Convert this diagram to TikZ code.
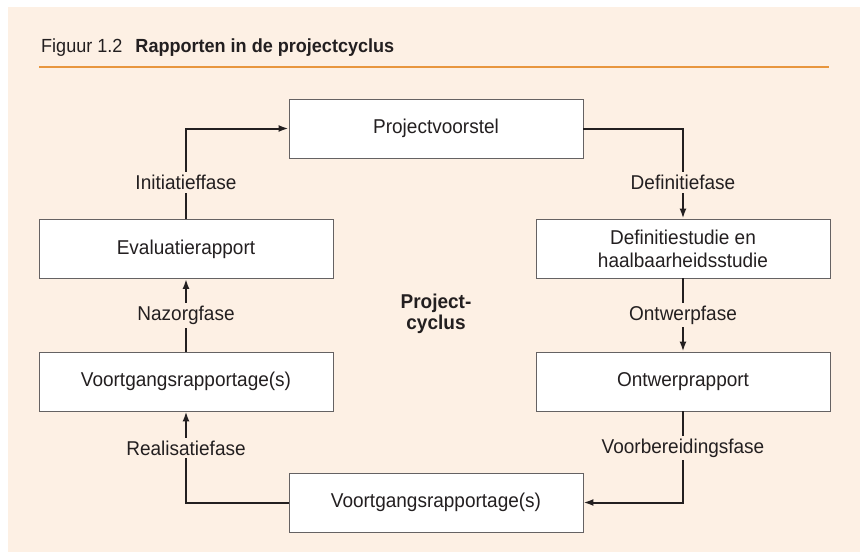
\documentclass[tikz,border=0pt]{standalone}
\usepackage{fontspec}
\setmainfont{Liberation Sans}[FakeStretch=0.95]
\usetikzlibrary{arrows.meta}
\definecolor{peach}{RGB}{253,240,228}
\definecolor{rulecol}{RGB}{232,150,62}
\definecolor{ink}{RGB}{35,31,32}

\begin{document}
\begin{tikzpicture}[x=1pt,y=-1pt,
    box/.style={draw=ink!70,fill=white,line width=0.9pt,minimum width=294pt,
        minimum height=59pt,align=center,text=ink,font=\fontsize{20}{23}\selectfont},
    fase/.style={fill=peach,inner sep=3pt,text=ink,font=\fontsize{20}{23}\selectfont},
    flow/.style={draw=ink,line width=2pt,-{Latex[length=10pt,width=7pt]}}]
    \useasboundingbox (0,0) rectangle (860,552);
    \fill [peach] (8,7) rectangle (860,552);
    % titel
    \node [anchor=base west,inner sep=0pt,text=ink,font=\fontsize{19}{21}\selectfont] (titel) at (41,52)
        {Figuur 1.2\hspace{13pt}\textbf{Rapporten in de projectcyclus}};
    \draw [rulecol,line width=2pt] (39,67) -- (829,67);
    % rapporten
    \node [box] (voorstel) at (436,128.5) {Projectvoorstel};
    \node [box] (definitie) at (683,248.5) {Definitiestudie en\\haalbaarheidsstudie};
    \node [box] (ontwerp) at (683,381.5) {Ontwerprapport};
    \node [box] (voortgang) at (436,502.5) {Voortgangsrapportage(s)};
    \node [box] (voortgangb) at (186,381.5) {Voortgangsrapportage(s)};
    \node [box] (evaluatie) at (186,249) {Evaluatierapport};
    \node [text=ink,align=center,font=\bfseries\fontsize{20}{21}\selectfont] (cyclus) at (436,314) {Project-\\cyclus};
    % fasen
    \draw [flow] (evaluatie.north) |- node [fase,pos=0.2] {Initiatieffase} (voorstel.west);
    \draw [flow] (voorstel.east) -| node [fase,pos=0.8] {Definitiefase} (definitie.north);
    \draw [flow] (definitie) -- node [fase] {Ontwerpfase} (ontwerp);
    \draw [flow] (ontwerp.south) |- node [fase,pos=0.2] {Voorbereidingsfase} (voortgang.east);
    \draw [flow] (voortgang.west) -| node [fase,pos=0.8] {Realisatiefase} (voortgangb.south);
    \draw [flow] (voortgangb) -- node [fase] {Nazorgfase} (evaluatie);
\end{tikzpicture}
\end{document}
